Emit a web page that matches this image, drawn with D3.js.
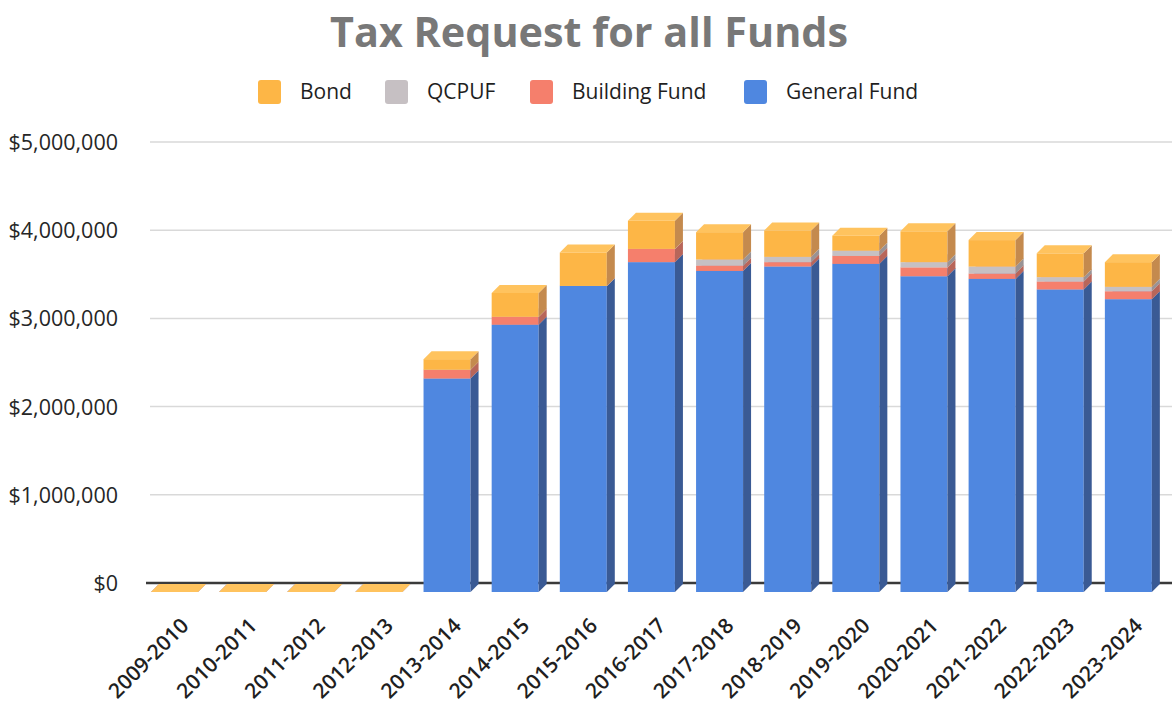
<!DOCTYPE html>
<html>
<head>
<meta charset="utf-8">
<script src="https://cdn.jsdelivr.net/npm/d3@7"></script>
<style>
  body { margin: 0; background: #fff; }
  svg { display: block; font-family: "Open Sans", sans-serif; }
</style>
</head>
<body>
<div id="chart"></div>
<script>
const years = ["2009-2010", "2010-2011", "2011-2012", "2012-2013", "2013-2014", "2014-2015",
  "2015-2016", "2016-2017", "2017-2018", "2018-2019", "2019-2020", "2020-2021",
  "2021-2022", "2022-2023", "2023-2024"];

const generalFund = [0, 0, 0, 0, 2420000, 3030000, 3470000, 3740000, 3640000, 3690000, 3720000, 3580000, 3550000, 3430000, 3320000];
const buildingFund = [0, 0, 0, 0, 100000, 90000, 0, 150000, 60000, 50000, 90000, 100000, 60000, 90000, 90000];
const qcpuf = [0, 0, 0, 0, 0, 0, 0, 0, 70000, 60000, 60000, 60000, 80000, 50000, 50000];
const bond = [0, 0, 0, 0, 120000, 270000, 380000, 320000, 310000, 300000, 170000, 350000, 300000, 270000, 280000];

const yTicks = [0, 1000000, 2000000, 3000000, 4000000, 5000000];

// bottom to top
const series = [
  { key: "General Fund", values: generalFund, front: "#4f87e0", side: "#3a5a94", top: "#5b91e6" },
  { key: "Building Fund", values: buildingFund, front: "#f57f6c", side: "#b8665a", top: "#f89080" },
  { key: "QCPUF", values: qcpuf, front: "#c6c0c3", side: "#999395", top: "#d2cdcf" },
  { key: "Bond", values: bond, front: "#fdb646", side: "#c48a4e", top: "#ffc35e" }
];
const legendOrder = ["Bond", "QCPUF", "Building Fund", "General Fund"];

const width = 1172;
const height = 706;
const plotLeft = 150;
const plotRight = 1172;
const depth = 8;

const svg = d3.select("#chart")
  .append("svg")
  .attr("width", width)
  .attr("height", height);

const x = d3.scaleBand()
  .domain(years)
  .range([plotLeft, plotRight])
  .paddingInner(0)
  .paddingOuter(0);

const y = d3.scaleLinear()
  .domain([0, 5000000])
  .range([583, 142]);

const barW = 47;

// gridlines
svg.append("g")
  .selectAll("line")
  .data(yTicks.filter(d => d > 0))
  .enter()
  .append("line")
  .attr("x1", plotLeft)
  .attr("x2", plotRight)
  .attr("y1", d => y(d))
  .attr("y2", d => y(d))
  .style("stroke", "#d9d9d9")
  .style("stroke-width", 1.5);

// zero axis line
svg.append("line")
  .attr("x1", plotLeft - 4)
  .attr("x2", plotRight)
  .attr("y1", y(0))
  .attr("y2", y(0))
  .style("stroke", "#3a3a3a")
  .style("stroke-width", 2.5);

// y labels
const yFmt = d => "$" + d3.format(",")(d);
svg.append("g")
  .selectAll("text")
  .data(yTicks)
  .enter()
  .append("text")
  .attr("x", 118)
  .attr("y", d => y(d) + 8)
  .attr("text-anchor", "end")
  .style("font-size", "21.5px")
  .style("fill", "#262626")
  .text(yFmt);

// stacked data
const table = years.map((yr, i) => {
  const row = { year: yr };
  series.forEach(s => { row[s.key] = s.values[i]; });
  return row;
});
const stacked = d3.stack().keys(series.map(s => s.key))(table);

// draw bars
const bars = svg.append("g");
years.forEach((yr, i) => {
  const x0 = x(yr) + 1;
  const g = bars.append("g");
  stacked.forEach((layer, si) => {
    const s = series[si];
    const lo = layer[i][0], hi = layer[i][1];
    const yb = y(lo) + 9, yt = y(hi) + 9;
    if (hi > lo) {
      g.append("rect")
        .attr("x", x0)
        .attr("y", yt)
        .attr("width", barW)
        .attr("height", yb - yt)
        .style("fill", s.front);
      g.append("polygon")
        .attr("points", [[x0 + barW, yb], [x0 + barW + depth, yb - depth], [x0 + barW + depth, yt - depth], [x0 + barW, yt]].join(" "))
        .style("fill", s.side);
    }
    g.append("polygon")
      .attr("points", [[x0, yt], [x0 + depth, yt - depth], [x0 + barW + depth, yt - depth], [x0 + barW, yt]].join(" "))
      .style("fill", s.top);
  });
});

// x labels
svg.append("g")
  .selectAll("text")
  .data(years)
  .enter()
  .append("text")
  .attr("text-anchor", "end")
  .attr("transform", d => `translate(${x(d) + 40},627) rotate(-45)`)
  .style("font-size", "21px")
  .style("font-weight", 600)
  .style("fill", "#1f1f1f")
  .text(d => d);

// title
svg.append("text")
  .attr("x", 589)
  .attr("y", 47)
  .attr("text-anchor", "middle")
  .attr("textLength", 518)
  .attr("lengthAdjust", "spacingAndGlyphs")
  .style("font-size", "42px")
  .style("font-weight", 700)
  .style("fill", "#787878")
  .text("Tax Request for all Funds");

// legend
const legendPos = { "Bond": 258, "QCPUF": 385, "Building Fund": 530, "General Fund": 744 };
const legend = svg.append("g");
legendOrder.forEach(k => {
  const s = series.find(d => d.key === k);
  const lx = legendPos[k];
  legend.append("rect")
    .attr("x", lx)
    .attr("y", 80)
    .attr("width", 23)
    .attr("height", 24)
    .attr("rx", 3)
    .style("fill", s.front);
  legend.append("text")
    .attr("x", lx + 42)
    .attr("y", 99)
    .style("font-size", "21px")
    .style("fill", "#1f1f1f")
    .text(k);
});
</script>
</body>
</html>
